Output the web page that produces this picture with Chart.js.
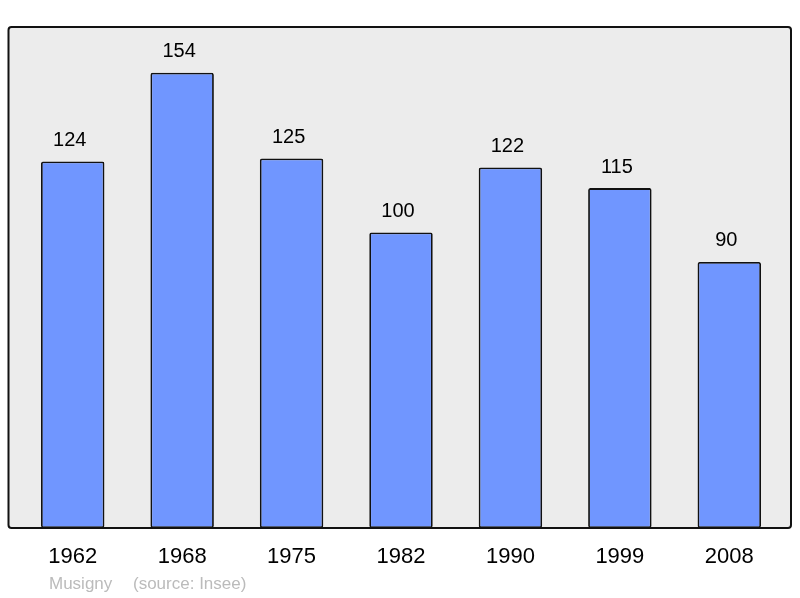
<!DOCTYPE html>
<html>
<head>
<meta charset="utf-8">
<script src="https://cdn.jsdelivr.net/npm/chart.js@4/dist/chart.umd.min.js"></script>
<style>
  html, body { margin: 0; padding: 0; background: #fff; }
  #wrap { width: 800px; height: 598px; }
</style>
</head>
<body>
<div id="wrap"><canvas id="popChart"></canvas></div>
<script>
const years = ["1962", "1968", "1975", "1982", "1990", "1999", "2008"];
const population = [124, 154, 125, 100, 122, 115, 90];
const townName = "Musigny";
const sourceText = "(source: Insee)";

// grey frame behind the bars
const frame = {
    id: "frame",
    beforeDatasetsDraw(chart) {
        const a = chart.chartArea;
        const ctx = chart.ctx;
        const x = a.left - 9.5, y = a.top, w = a.right + 7 - x, h = a.bottom - a.top;
        ctx.save();
        ctx.beginPath();
        ctx.roundRect(x, y, w, h, 3);
        ctx.fillStyle = "#ececec";
        ctx.fill();
        ctx.lineWidth = 2;
        ctx.strokeStyle = "#111";
        ctx.stroke();
        ctx.restore();
    }
};

// numbers above bars + footer
const labels = {
    id: "labels",
    afterDatasetsDraw(chart) {
        const ctx = chart.ctx;
        const meta = chart.getDatasetMeta(0);
        ctx.save();
        ctx.font = "20px 'Liberation Sans', Arial, sans-serif";
        ctx.fillStyle = "#000";
        ctx.textAlign = "center";
        ctx.textBaseline = "middle";
        meta.data.forEach((bar, i) => {
            ctx.fillText(population[i], bar.x - 3, bar.y - 21);
        });
        ctx.font = "17px 'Liberation Sans', Arial, sans-serif";
        ctx.fillStyle = "#bbbbbb";
        ctx.textAlign = "left";
        ctx.fillText(townName, 49, 584);
        ctx.fillText(sourceText, 133, 584);
        ctx.restore();
    }
};

new Chart(document.getElementById("popChart"), {
    type: "bar",
    data: {
        labels: years,
        datasets: [{
            data: population,
            backgroundColor: "#7096ff",
            borderColor: "#111",
            borderWidth: 1.8,
            borderRadius: 2,
            borderSkipped: false,
            barPercentage: 0.58,
            categoryPercentage: 1
        }]
    },
    options: {
        responsive: true,
        maintainAspectRatio: false,
        animation: false,
        layout: { padding: { left: 18, right: 16, top: 27, bottom: 11.6 } },
        plugins: { legend: { display: false }, tooltip: { enabled: false } },
        scales: {
            x: {
                grid: { display: false, drawTicks: false },
                border: { display: false },
                ticks: {
                    color: "#000",
                    padding: 16,
                    font: { family: "'Liberation Sans', Arial, sans-serif", size: 22 }
                }
            },
            y: {
                display: false,
                min: 0,
                max: 169.5
            }
        }
    },
    plugins: [frame, labels]
});
</script>
</body>
</html>
